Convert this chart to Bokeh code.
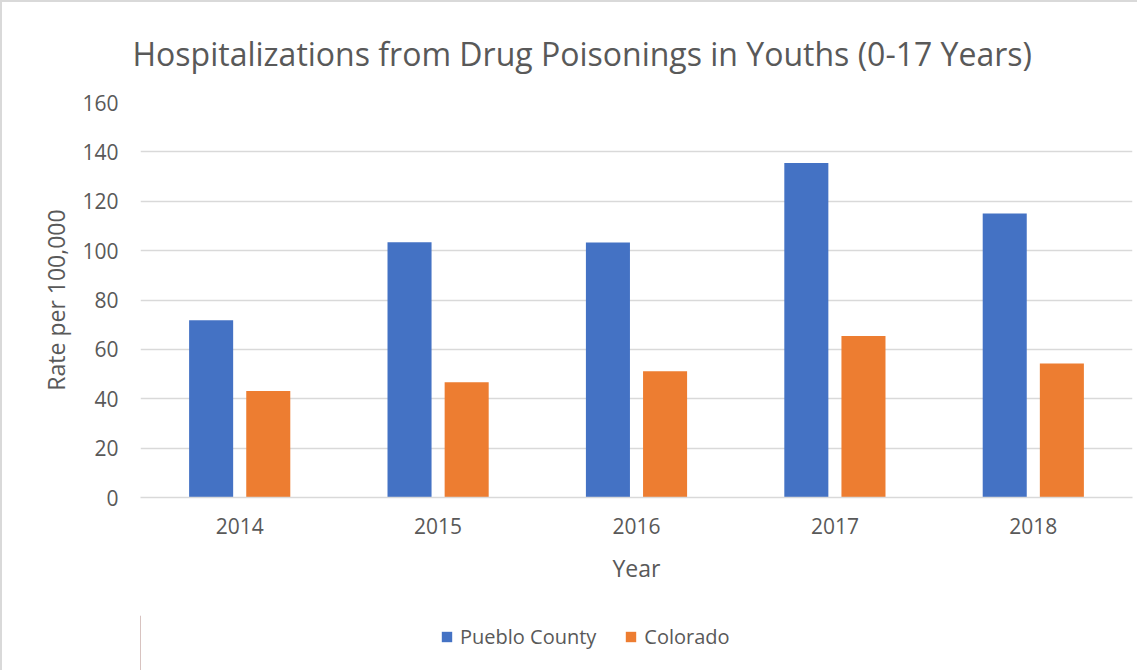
from bokeh.plotting import figure
from bokeh.layouts import column
from bokeh.models import FactorRange, Range1d, FixedTicker, Legend, LegendItem
from bokeh.transform import dodge
from bokeh.embed import file_html
from bokeh.resources import INLINE
from bokeh.models import ColumnDataSource

years = ["2014", "2015", "2016", "2017", "2018"]
pueblo = [71.8, 103.4, 103.3, 135.5, 115.0]
colorado = [43.1, 46.7, 51.1, 65.4, 54.3]
series_names = ["Pueblo County", "Colorado"]
y_ticks = [0, 20, 40, 60, 80, 100, 120, 140, 160]

BLUE = "#4472C4"
ORANGE = "#ED7D31"
TEXT = "#595959"
GRID = "#d9d9d9"
FONT = "Open Sans"

src = ColumnDataSource(dict(year=years, pueblo=pueblo, colorado=colorado))

p = figure(
    frame_width=990, frame_height=393,
    x_range=FactorRange(*years, range_padding=0),
    y_range=Range1d(0, 160),
    output_backend="svg", toolbar_location=None,
    min_border_left=138, min_border_right=7,
    min_border_top=90, min_border_bottom=120,
    title="Hospitalizations from Drug Poisonings in Youths (0-17 Years)",
)
p.styles = {"border-left": "2px solid #d9d9d9", "border-top": "2px solid #d9d9d9"}

p.title.text_font = FONT
p.title.text_font_size = "32px"
p.title.text_font_style = "normal"
p.title.text_color = TEXT
p.title.align = "left"
p.title.offset = -8
p.title.standoff = 55

r1 = p.vbar(x=dodge("year", -0.144, range=p.x_range), top="pueblo", width=0.222,
            source=src, fill_color=BLUE, line_color=None)
r2 = p.vbar(x=dodge("year", 0.144, range=p.x_range), top="colorado", width=0.222,
            source=src, fill_color=ORANGE, line_color=None)

p.outline_line_color = None
p.background_fill_color = "white"
p.border_fill_color = "white"

p.xgrid.grid_line_color = None
p.ygrid.grid_line_color = GRID
p.ygrid.grid_line_width = 1.5
p.yaxis.ticker = FixedTicker(ticks=y_ticks)

for ax in (p.xaxis[0], p.yaxis[0]):
    ax.axis_line_color = None
    ax.major_tick_line_color = None
    ax.minor_tick_line_color = None
    ax.major_tick_out = 0
    ax.major_tick_in = 0
    ax.major_label_text_font = FONT
    ax.major_label_text_font_size = "21px"
    ax.major_label_text_color = TEXT
    ax.axis_label_text_font = FONT
    ax.axis_label_text_font_size = "23px"
    ax.axis_label_text_font_style = "normal"
    ax.axis_label_text_color = TEXT

p.xaxis.axis_label = "Year"
p.xaxis.major_label_standoff = 20
p.xaxis.axis_label_standoff = 15
p.yaxis.axis_label = "Rate per 100,000"
p.yaxis.major_label_standoff = 22
p.yaxis.axis_label_standoff = 7

# zero baseline
p.xaxis.axis_line_color = GRID
p.xaxis.axis_line_width = 1.5

# legend strip below the chart
lg = figure(
    width=1135, height=55,
    x_range=Range1d(0, 1), y_range=Range1d(0, 1),
    x_axis_type=None, y_axis_type=None,
    output_backend="svg", toolbar_location=None,
    min_border=0,
)
lg.styles = {"border-left": "2px solid #d9d9d9"}
lg.outline_line_color = None
lg.grid.grid_line_color = None
lg.background_fill_color = "white"
lg.border_fill_color = "white"
# legend keys (one point each, placed outside the visible range)
k1 = lg.vbar(x=[-10], top=[1], width=0.1, fill_color=BLUE, line_color=None)
k2 = lg.vbar(x=[-10], top=[1], width=0.1, fill_color=ORANGE, line_color=None)

legend = Legend(
    items=[LegendItem(label=series_names[0], renderers=[k1]),
           LegendItem(label=series_names[1], renderers=[k2])],
    orientation="horizontal",
    location=(300, 20),
    glyph_width=13, glyph_height=13, label_height=20,
    label_standoff=7, spacing=28, padding=0, margin=0,
    border_line_color=None, background_fill_alpha=0,
    label_text_font=FONT, label_text_font_size="20px", label_text_color=TEXT,
)
lg.add_layout(legend, "center")

layout = column(p, lg, spacing=0)

open("out.html", "w").write(file_html(layout, INLINE))
